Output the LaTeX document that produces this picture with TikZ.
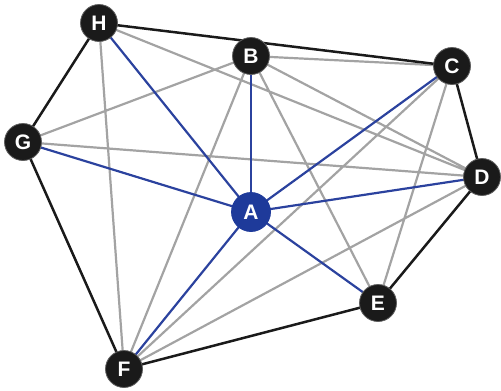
\documentclass[tikz,border=0pt]{standalone}
\usepackage{fontspec}
\setmainfont{Liberation Sans}
\definecolor{edgegray}{HTML}{A3A3A3}
\definecolor{edgeblack}{HTML}{1A1A1A}
\definecolor{edgeblue}{HTML}{2B429E}
\definecolor{nodeblue}{HTML}{1E3A9A}
\begin{document}
\begin{tikzpicture}[x=1pt,y=-1pt,
  vtx/.style={circle,fill=edgeblack,draw=edgeblack!70,line width=0.8pt,minimum size=37pt,inner sep=0pt,text=white,font=\fontsize{21}{21}\selectfont\bfseries},
  hub/.style={vtx,fill=nodeblue,draw=nodeblue,minimum size=39pt},
  gedge/.style={draw=edgegray,line width=2.2pt},
  bedge/.style={draw=edgeblack,line width=2.5pt},
  uedge/.style={draw=edgeblue,line width=2.2pt}]
\useasboundingbox (0,0) rectangle (501,391);
\coordinate (pH) at (99,23);
\coordinate (pB) at (251,56);
\coordinate (pC) at (452,66);
\coordinate (pG) at (23,142);
\coordinate (pD) at (482,177);
\coordinate (pA) at (251,212);
\coordinate (pE) at (378,303);
\coordinate (pF) at (124,369);
% gray edges
\draw[gedge] (pH)--(pF) (pH)--(pD) (pB)--(pG) (pB)--(pF) (pB)--(pE) (pB)--(pD) (pB)--(pC)
  (pC)--(pF) (pC)--(pE) (pD)--(pG) (pD)--(pF);
% black hull
\draw[bedge] (pH)--(pC) (pC)--(pD) (pD)--(pE) (pE)--(pF) (pF)--(pG) (pG)--(pH);
% blue spokes
\foreach \t in {pH,pB,pC,pD,pE,pF,pG} \draw[uedge] (pA)--(\t);
\node[vtx] (H) at (pH) {H};
\node[vtx] (B) at (pB) {B};
\node[vtx] (C) at (pC) {C};
\node[vtx] (G) at (pG) {G};
\node[vtx] (D) at (pD) {D};
\node[vtx] (E) at (pE) {E};
\node[vtx] (F) at (pF) {F};
\node[hub] (A) at (pA) {A};
\end{tikzpicture}
\end{document}
